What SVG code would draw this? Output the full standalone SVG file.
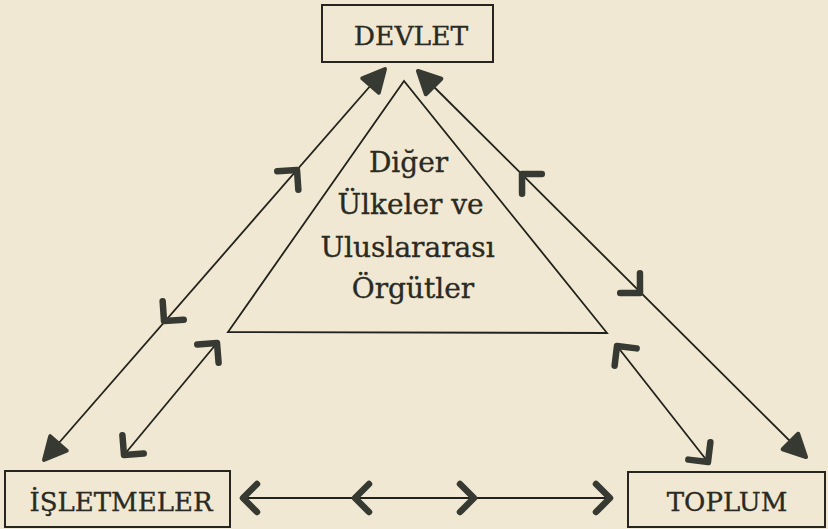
<svg xmlns="http://www.w3.org/2000/svg" xmlns:xlink="http://www.w3.org/1999/xlink" width="828" height="529" viewBox="0 0 828 529">
  <defs>
    <style>
      .bg { fill: #f0e8d2; }
      .box { fill: none; stroke: #26261f; stroke-width: 2; }
      .lbl { font-family: "DejaVu Serif", "Liberation Serif", serif; fill: #2a2a23; stroke: #2a2a23; stroke-width: 0.35; text-anchor: middle; }
      .ln { fill: none; stroke: #22221c; stroke-width: 1.8; }
      .chev { fill: none; stroke: #373a32; stroke-width: 6.5; stroke-linecap: round; stroke-linejoin: round; }
      .big { fill: #373a32; stroke: #373a32; stroke-width: 4; stroke-linejoin: round; }
    </style>
    <path id="chevron" class="chev" d="M -14,-14 L 0,0 L -14,14"/>
    <path id="bighead" class="big" d="M 0,0 L -22,-11 L -22,11 Z"/>
  </defs>

  <rect class="bg" x="0" y="0" width="828" height="529"/>

  <g id="devlet">
    <rect class="box" x="322" y="5" width="171" height="57"/>
    <text class="lbl" x="411" y="45" font-size="26.5">DEVLET</text>
  </g>

  <g id="isletmeler">
    <rect class="box" x="5" y="471" width="225" height="56"/>
    <text class="lbl" x="121" y="511" font-size="26">İŞLETMELER</text>
  </g>

  <g id="toplum">
    <rect class="box" x="628" y="472" width="197" height="55"/>
    <text class="lbl" x="727" y="511" font-size="26">TOPLUM</text>
  </g>

  <g id="diger-ulkeler">
    <polygon class="ln" points="404,81 228,332 607,333"/>
    <text class="lbl" font-size="28">
      <tspan x="413" y="172">Diğer</tspan>
      <tspan x="415" y="214">Ülkeler ve</tspan>
      <tspan x="412" y="257">Uluslararası</tspan>
      <tspan x="413" y="298">Örgütler</tspan>
    </text>
  </g>

  <g id="connectors">
    <!-- Devlet <-> İşletmeler (outer) -->
    <line class="ln" x1="44" y1="460" x2="385" y2="69"/>
    <use xlink:href="#bighead" transform="translate(385,69) rotate(-48.9)"/>
    <use xlink:href="#bighead" transform="translate(44,460) rotate(131.1)"/>
    <use xlink:href="#chevron" transform="translate(297,170) rotate(-48.9)"/>
    <use xlink:href="#chevron" transform="translate(164,321) rotate(131.1)"/>

    <!-- Diğer Ülkeler <-> İşletmeler -->
    <line class="ln" x1="124" y1="455" x2="217" y2="343"/>
    <use xlink:href="#chevron" transform="translate(217,343) rotate(-49.6)"/>
    <use xlink:href="#chevron" transform="translate(124,455) rotate(130.4)"/>

    <!-- Devlet <-> Toplum (outer) -->
    <line class="ln" x1="418" y1="71" x2="806" y2="457"/>
    <use xlink:href="#bighead" transform="translate(418,71) rotate(-135.15)"/>
    <use xlink:href="#bighead" transform="translate(806,457) rotate(44.85)"/>
    <use xlink:href="#chevron" transform="translate(522,174) rotate(-135.15)"/>
    <use xlink:href="#chevron" transform="translate(640,293) rotate(44.85)"/>

    <!-- Diğer Ülkeler <-> Toplum -->
    <line class="ln" x1="617" y1="346" x2="708" y2="462"/>
    <use xlink:href="#chevron" transform="translate(617,346) rotate(-128.1)"/>
    <use xlink:href="#chevron" transform="translate(708,462) rotate(51.9)"/>

    <!-- İşletmeler <-> Toplum -->
    <line class="ln" x1="243" y1="498" x2="610" y2="498"/>
    <use xlink:href="#chevron" transform="translate(243,498) rotate(180)"/>
    <use xlink:href="#chevron" transform="translate(355,498) rotate(180)"/>
    <use xlink:href="#chevron" transform="translate(474,498)"/>
    <use xlink:href="#chevron" transform="translate(610,498)"/>
  </g>
</svg>
